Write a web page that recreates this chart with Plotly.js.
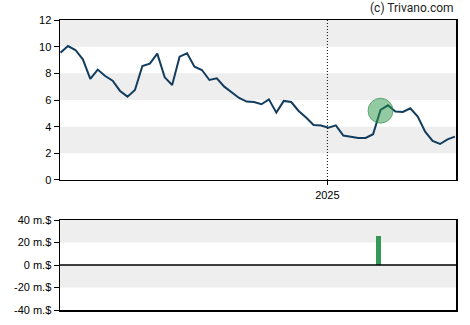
<!DOCTYPE html>
<html>
<head>
<meta charset="utf-8">
<script src="https://cdn.plot.ly/plotly-3.0.1.min.js"></script>
<style>html,body{margin:0;padding:0;background:#fff;}#chart{width:470px;height:325px;}</style>
</head>
<body>
<div id="chart"></div>
<script>
const dates = [
 '2024-04-25','2024-05-02','2024-05-09','2024-05-16','2024-05-23','2024-05-30',
 '2024-06-06','2024-06-13','2024-06-20','2024-06-27',
 '2024-07-04','2024-07-11','2024-07-18','2024-07-25',
 '2024-08-01','2024-08-08','2024-08-15','2024-08-22','2024-08-29',
 '2024-09-05','2024-09-12','2024-09-19','2024-09-26',
 '2024-10-03','2024-10-10','2024-10-17','2024-10-24','2024-10-31',
 '2024-11-07','2024-11-14','2024-11-21','2024-11-28',
 '2024-12-05','2024-12-12','2024-12-19','2024-12-26',
 '2025-01-02','2025-01-09','2025-01-16','2025-01-23','2025-01-30',
 '2025-02-06','2025-02-13','2025-02-20','2025-02-27',
 '2025-03-06','2025-03-13','2025-03-20','2025-03-27',
 '2025-04-03','2025-04-10','2025-04-17','2025-04-24','2025-05-01'
];
const prices = [
 9.55,10.05,9.75,9.05,7.58,8.28,7.8,7.45,6.68,6.25,
 6.75,8.55,8.73,9.48,7.7,7.13,9.25,9.5,8.5,8.25,
 7.5,7.63,7.0,6.58,6.15,5.88,5.85,5.68,6.05,5.05,
 5.93,5.85,5.18,4.68,4.13,4.08,3.93,4.1,3.33,3.25,
 3.15,3.15,3.43,5.25,5.6,5.13,5.1,5.38,4.75,3.63,
 2.93,2.7,3.05,3.25
];
const markerDates = ['2025-02-20'];
const markerValues = [5.2];
const barDates = ['2025-02-18'];
const barValues = [26];
const priceTicks = [0,2,4,6,8,10,12];
const flowTicks = [-40,-20,0,20,40];
const flowTickLabels = ['-40 m.$','-20 m.$','0 m.$','20 m.$','40 m.$'];
const yearTickDates = ['2025-01-01'];
const yearTickLabels = ['2025'];

const xRange = ['2024-04-24 12:00','2025-05-02'];
const tickFont = {family:'Liberation Sans, Arial, sans-serif', size:11, color:'#000'};
const lw = 1.5;

const traces = [
 {x:dates, y:prices, type:'scatter', mode:'lines', line:{color:'#123d5e', width:2}, xaxis:'x', yaxis:'y', hoverinfo:'skip'},
 {x:markerDates, y:markerValues, type:'scatter', mode:'markers', marker:{size:25, color:'rgba(40,150,70,0.5)', line:{color:'rgba(40,140,70,0.6)', width:1}}, xaxis:'x', yaxis:'y'},
 {x:barDates, y:barValues, type:'bar', marker:{color:'#339955'}, width:4.6*86400000, xaxis:'x2', yaxis:'y2'}
];

const band = '#eeeeee';
const shapes = [];
[[2,4],[6,8],[10,12]].forEach(b => shapes.push({type:'rect', xref:'x domain', yref:'y', x0:0, x1:1, y0:b[0], y1:b[1], fillcolor:band, line:{width:0}, layer:'below'}));
[[20,40],[-20,0]].forEach(b => shapes.push({type:'rect', xref:'x2 domain', yref:'y2', x0:0, x1:1, y0:b[0], y1:b[1], fillcolor:band, line:{width:0}, layer:'below'}));
shapes.push({type:'line', xref:'x', yref:'y domain', x0:yearTickDates[0], x1:yearTickDates[0], y0:0, y1:1, line:{color:'#000', width:1, dash:'1px,2px'}});
shapes.push({type:'line', xref:'x2 domain', yref:'y2', x0:0, x1:1, y0:0, y1:0, line:{color:'#000', width:lw}});

const layout = {
 width:470, height:325,
 margin:{l:60, r:14, t:20, b:15},
 paper_bgcolor:'#fff', plot_bgcolor:'rgba(0,0,0,0)',
 showlegend:false,
 bargap:0,
 xaxis:{type:'date', range:xRange, domain:[0,1], anchor:'y', showgrid:false, zeroline:false,
   showline:true, mirror:true, linecolor:'#000', linewidth:lw,
   tickmode:'array', tickvals:yearTickDates, ticktext:yearTickLabels, ticks:'outside', ticklen:4, tickcolor:'#000', tickwidth:1, tickfont:tickFont},
 yaxis:{range:[0,12], domain:[0.4483,1], anchor:'x', showgrid:false, zeroline:false,
   showline:true, mirror:true, linecolor:'#000', linewidth:lw,
   tickmode:'array', tickvals:priceTicks, ticks:'outside', ticklen:5, tickcolor:'#000', tickwidth:1, tickfont:tickFont},
 xaxis2:{type:'date', range:xRange, domain:[0,1], anchor:'y2', showgrid:false, zeroline:false,
   showline:true, mirror:true, linecolor:'#000', linewidth:lw, showticklabels:false, ticks:''},
 yaxis2:{range:[-40,40], domain:[0,0.3103], anchor:'x2', showgrid:false, zeroline:false,
   showline:true, mirror:true, linecolor:'#000', linewidth:lw,
   tickmode:'array', tickvals:flowTicks, ticktext:flowTickLabels, ticks:'outside', ticklen:5, tickcolor:'#000', tickwidth:1, tickfont:tickFont},
 shapes:shapes,
 annotations:[{text:'(c) Trivano.com', xref:'paper', yref:'paper', x:1, y:1.041, xanchor:'right', yanchor:'middle', showarrow:false,
   font:{family:'Roboto, sans-serif', size:12, color:'#222'}}]
};
Plotly.newPlot('chart', traces, layout, {displayModeBar:false, staticPlot:true});
</script>
</body>
</html>
